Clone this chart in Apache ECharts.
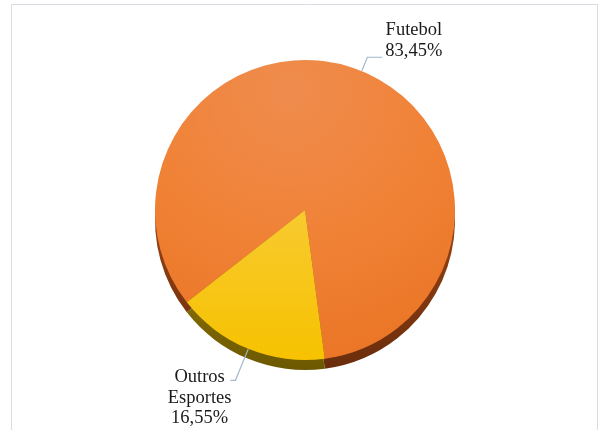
<!DOCTYPE html>
<html>
<head>
<meta charset="utf-8">
<script src="https://cdn.jsdelivr.net/npm/echarts@6/dist/echarts.min.js"></script>
<style>
  html, body { margin: 0; padding: 0; background: #ffffff; }
  #chart { width: 608px; height: 430px; }
</style>
</head>
<body>
<div id="chart"></div>
<script>
// Share of preference by sport (percent)
const categories = ['Futebol', 'Outros Esportes'];
const shares = [83.45, 16.55];

// Top face and side (depth) colours per slice
const topColors = [
  { type: 'radial', x: 0.45, y: 0.1, r: 1.0,
    colorStops: [{ offset: 0, color: '#ef8c4e' }, { offset: 0.5, color: '#f08236' }, { offset: 1, color: '#ea7324' }] },
  { type: 'linear', x: 0, y: 0, x2: 0, y2: 1,
    colorStops: [{ offset: 0, color: '#f8ca30' }, { offset: 1, color: '#f6c200' }] }
];
const sideColors = [
  { type: 'linear', x: 0, y: 0, x2: 0, y2: 1,
    colorStops: [{ offset: 0, color: '#c05a1c' }, { offset: 0.6, color: '#8e3e12' }, { offset: 1, color: '#6a2d0c' }] },
  { type: 'linear', x: 0, y: 0, x2: 0, y2: 1,
    colorStops: [{ offset: 0, color: '#9c8206' }, { offset: 1, color: '#6c5800' }] }
];

// Per-slice leader line lengths [first segment, horizontal segment]
const leaderLengths = [[15, 15], [34, 5]];

const pieCenter = [305, 210];
const pieRadius = 150;
const depth = 10;
const startAngle = 218;

function fmtPct(v) {
  return v.toFixed(2).replace('.', ',') + '%';
}

const topData = categories.map((name, i) => ({
  name: name,
  value: shares[i],
  itemStyle: { color: topColors[i] },
  labelLine: { length: leaderLengths[i][0], length2: leaderLengths[i][1] }
}));
const sideData = categories.map((name, i) => ({
  name: name,
  value: shares[i],
  itemStyle: { color: sideColors[i] }
}));

const chart = echarts.init(document.getElementById('chart'), null, { renderer: 'canvas' });

chart.setOption({
  backgroundColor: '#ffffff',
  animation: false,
  graphic: [{
    type: 'rect',
    shape: { x: 11.5, y: 4.5, width: 586, height: 440 },
    style: { fill: 'none', stroke: '#d9dde3', lineWidth: 1 },
    silent: true,
    z: 0
  }],
  series: [
    {
      // depth band under the top face
      type: 'pie',
      center: [pieCenter[0], pieCenter[1] + depth],
      radius: pieRadius,
      startAngle: startAngle,
      clockwise: true,
      silent: true,
      label: { show: false },
      labelLine: { show: false },
      data: sideData,
      z: 1
    },
    {
      type: 'pie',
      center: pieCenter,
      radius: pieRadius,
      startAngle: startAngle,
      clockwise: true,
      avoidLabelOverlap: false,
      data: topData,
      z: 2,
      label: {
        show: true,
        position: 'outside',
        color: '#1a1a1a',
        fontFamily: '"Liberation Serif", "DejaVu Serif", serif',
        fontSize: 18.5,
        lineHeight: 20.5,
        formatter: p => p.name.replace(' ', '\n') + '\n' + fmtPct(p.value)
      },
      labelLine: {
        show: true,
        smooth: false,
        lineStyle: { color: '#a3b6cc', width: 1.2 }
      },
      labelLayout: function (params) {
        const pts = params.labelLinePoints;
        if (!pts) return {};
        const end = pts[pts.length - 1];
        const w = params.labelRect.width;
        if (params.dataIndex === 0) {
          return {
            x: end[0] + 3 + w / 2,
            y: end[1] + 4,
            align: 'center',
            verticalAlign: 'bottom',
            labelLinePoints: pts
          };
        }
        return {
          x: end[0] + 1 - w / 2,
          y: end[1] - 13,
          align: 'center',
          verticalAlign: 'top',
          labelLinePoints: pts
        };
      }
    }
  ]
});
</script>
</body>
</html>
